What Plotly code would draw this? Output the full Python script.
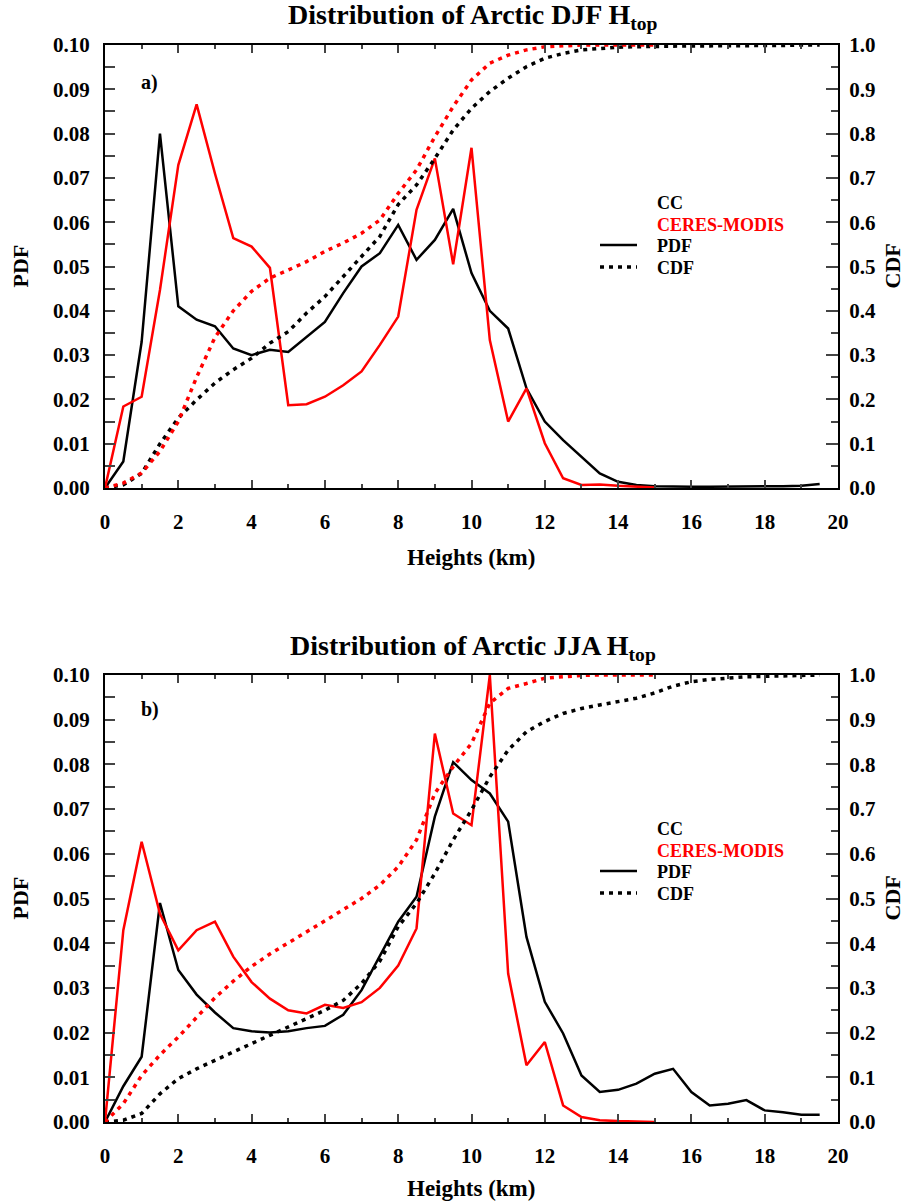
import plotly.graph_objects as go

# ---------------- data ----------------
heights_cc = [0.0, 0.5, 1.0, 1.5, 2.0, 2.5, 3.0, 3.5, 4.0, 4.5, 5.0, 5.5, 6.0, 6.5, 7.0, 7.5,
              8.0, 8.5, 9.0, 9.5, 10.0, 10.5, 11.0, 11.5, 12.0, 12.5, 13.0, 13.5, 14.0, 14.5,
              15.0, 15.5, 16.0, 16.5, 17.0, 17.5, 18.0, 18.5, 19.0, 19.5]
heights_cm = [0.0, 0.5, 1.0, 1.5, 2.0, 2.5, 3.0, 3.5, 4.0, 4.5, 5.0, 5.5, 6.0, 6.5, 7.0, 7.5,
              8.0, 8.5, 9.0, 9.5, 10.0, 10.5, 11.0, 11.5, 12.0, 12.5, 13.0, 13.5, 14.0, 14.5, 15.0]

# a) DJF
djf_cc_pdf = [0.000, 0.006, 0.033, 0.080, 0.041, 0.038, 0.0365, 0.0315, 0.030, 0.0312,
              0.0307, 0.034, 0.0375, 0.044, 0.050, 0.053, 0.0594, 0.0515, 0.056, 0.063,
              0.0485, 0.040, 0.036, 0.0225, 0.015, 0.0108, 0.0071, 0.0033, 0.0014, 0.0007,
              0.0004, 0.0003, 0.0003, 0.0003, 0.0003, 0.0004, 0.0004, 0.0004, 0.0005, 0.0009]
djf_cm_pdf = [0.000, 0.0184, 0.0206, 0.0447, 0.0729, 0.0866, 0.071, 0.0564, 0.0545, 0.0497,
              0.0187, 0.0189, 0.0206, 0.0232, 0.0263, 0.0323, 0.0387, 0.0628, 0.0744, 0.0505,
              0.0768, 0.0334, 0.015, 0.0225, 0.0101, 0.0022, 0.0007, 0.0008, 0.0005, 0.0003, 0.0001]
djf_cc_cdf = [0.000, 0.007, 0.033, 0.100, 0.158, 0.199, 0.237, 0.267, 0.293, 0.327,
              0.353, 0.395, 0.432, 0.477, 0.523, 0.568, 0.640, 0.684, 0.744, 0.808,
              0.857, 0.895, 0.925, 0.951, 0.970, 0.981, 0.989, 0.992, 0.995, 0.996,
              0.997, 0.997, 0.998, 0.998, 0.998, 0.999, 0.999, 0.999, 1.000, 1.000]
djf_cm_cdf = [0.000, 0.011, 0.034, 0.083, 0.150, 0.250, 0.340, 0.400, 0.444, 0.474,
              0.492, 0.511, 0.534, 0.553, 0.575, 0.605, 0.665, 0.718, 0.793, 0.861,
              0.921, 0.959, 0.977, 0.989, 0.996, 0.998, 1.000, 1.000, 1.000, 1.000, 1.000]

# b) JJA
jja_cc_pdf = [0.000, 0.008, 0.0146, 0.049, 0.034, 0.0285, 0.0245, 0.021, 0.0203, 0.020,
              0.0203, 0.021, 0.0215, 0.024, 0.0295, 0.037, 0.0448, 0.0504, 0.0683, 0.0805,
              0.0765, 0.0735, 0.0672, 0.0414, 0.0269, 0.0198, 0.0104, 0.0067, 0.0072, 0.0086,
              0.0108, 0.0119, 0.0067, 0.0037, 0.0041, 0.0049, 0.0026, 0.0022, 0.0016, 0.0016]
jja_cm_pdf = [0.000, 0.0429, 0.0627, 0.0466, 0.0384, 0.0429, 0.0448, 0.037, 0.0313, 0.0276,
              0.025, 0.0243, 0.0262, 0.0255, 0.0268, 0.030, 0.035, 0.0433, 0.0869, 0.069,
              0.0664, 0.100, 0.0332, 0.0127, 0.0179, 0.0037, 0.0011, 0.0004, 0.0002, 0.0001, 0.000]
jja_cc_cdf = [0.000, 0.004, 0.019, 0.063, 0.097, 0.119, 0.138, 0.157, 0.175, 0.194,
              0.213, 0.231, 0.250, 0.272, 0.310, 0.360, 0.437, 0.489, 0.556, 0.631,
              0.698, 0.772, 0.832, 0.873, 0.896, 0.914, 0.925, 0.933, 0.940, 0.948,
              0.960, 0.975, 0.985, 0.990, 0.993, 0.996, 0.997, 0.998, 0.999, 1.000]
jja_cm_cdf = [0.000, 0.041, 0.104, 0.150, 0.190, 0.233, 0.278, 0.315, 0.348, 0.376,
              0.400, 0.425, 0.450, 0.475, 0.500, 0.530, 0.571, 0.631, 0.735, 0.795,
              0.847, 0.937, 0.970, 0.981, 0.993, 0.996, 0.999, 1.000, 1.000, 1.000, 1.000]

titles = ["Distribution of Arctic DJF H<sub>top</sub>", "Distribution of Arctic JJA H<sub>top</sub>"]
panel_labels = ["a)", "b)"]

# ---------------- figure ----------------
W, H = 907, 1202
FONT = "Liberation Serif"
RED = "#ff0000"

def px(x):
    return x / W

def py(y):
    return 1 - y / H

panels = [
    dict(top=45, bot=488, xt=69, pdfs=(djf_cc_pdf, djf_cm_pdf), cdfs=(djf_cc_cdf, djf_cm_cdf)),
    dict(top=675, bot=1122, xt=66, pdfs=(jja_cc_pdf, jja_cm_pdf), cdfs=(jja_cc_cdf, jja_cm_cdf)),
]
x_left, x_right = 105, 838

fig = go.Figure()
layout = dict(width=W, height=H, margin=dict(l=0, r=0, t=0, b=0, autoexpand=False),
              paper_bgcolor="white", plot_bgcolor="white", showlegend=False)
annotations = []
shapes = []

tickfont = dict(family=FONT, size=21, color="black", weight="bold")

for i, p in enumerate(panels):
    xa = "x" if i == 0 else "x2"
    ya_l = "y" if i == 0 else "y3"
    ya_r = "y2" if i == 0 else "y4"
    xkey = "xaxis" if i == 0 else "xaxis2"
    ylkey = "yaxis" if i == 0 else "yaxis3"
    yrkey = "yaxis2" if i == 0 else "yaxis4"

    cc_pdf, cm_pdf = p["pdfs"]
    cc_cdf, cm_cdf = p["cdfs"]

    fig.add_trace(go.Scatter(x=heights_cc, y=cc_cdf, mode="lines", xaxis=xa, yaxis=ya_r,
                             line=dict(color="black", width=3.5, dash="4px,5px")))
    fig.add_trace(go.Scatter(x=heights_cm, y=cm_cdf, mode="lines", xaxis=xa, yaxis=ya_r,
                             line=dict(color=RED, width=3.5, dash="4px,5px")))
    fig.add_trace(go.Scatter(x=heights_cc, y=cc_pdf, mode="lines", xaxis=xa, yaxis=ya_l,
                             line=dict(color="black", width=2.5)))
    fig.add_trace(go.Scatter(x=heights_cm, y=cm_pdf, mode="lines", xaxis=xa, yaxis=ya_l,
                             line=dict(color=RED, width=2.5)))

    ydom = [py(p["bot"]), py(p["top"])]
    layout[xkey] = dict(domain=[px(x_left), px(x_right)], range=[0, 20], anchor=ya_l,
                        dtick=2, tick0=0, ticks="inside", ticklen=8, tickwidth=2,
                        minor=dict(dtick=1, ticks="inside", ticklen=4, tickwidth=2),
                        showline=True, linewidth=2, linecolor="black", mirror="ticks",
                        showgrid=False, zeroline=False, tickfont=tickfont,
                        ticklabelstandoff=14, automargin=False)
    layout[ylkey] = dict(domain=ydom, range=[0, 0.1], anchor=xa, side="left",
                         dtick=0.01, tick0=0, tickformat=".2f", ticks="inside", ticklen=10,
                         tickwidth=2,
                         minor=dict(dtick=0.005, ticks="inside", ticklen=10, tickwidth=2),
                         showline=True, linewidth=2, linecolor="black",
                         showgrid=False, zeroline=False, tickfont=tickfont,
                         ticklabelstandoff=9, automargin=False)
    layout[yrkey] = dict(domain=ydom, range=[0, 1.0], anchor=xa, overlaying=ya_l, side="right",
                         dtick=0.1, tick0=0, tickformat=".1f", ticks="inside", ticklen=12,
                         tickwidth=2,
                         minor=dict(dtick=0.05, ticks="inside", ticklen=7, tickwidth=2),
                         showline=True, linewidth=2, linecolor="black",
                         showgrid=False, zeroline=False, tickfont=tickfont,
                         ticklabelstandoff=5, automargin=False)

    off = p["top"] - 45
    # title
    annotations.append(dict(x=px(473), y=py(off + 17), xref="paper", yref="paper",
                            text="<b>" + titles[i] + "</b>", showarrow=False,
                            xanchor="center", yanchor="middle",
                            font=dict(family=FONT, size=28, color="black")))
    # panel label
    annotations.append(dict(x=px(139), y=py(off + 83 - (4 if i else 0)), xref="paper", yref="paper",
                            text="<b>" + panel_labels[i] + "</b>", showarrow=False,
                            xanchor="left", yanchor="middle",
                            font=dict(family=FONT, size=20, color="black")))
    # axis titles
    annotations.append(dict(x=px(471), y=py(p["bot"] + p["xt"]), xref="paper", yref="paper",
                            text="<b>Heights (km)</b>", showarrow=False,
                            xanchor="center", yanchor="middle",
                            font=dict(family=FONT, size=23, color="black")))
    annotations.append(dict(x=px(20), y=py((p["top"] + p["bot"]) / 2), xref="paper", yref="paper",
                            text="<b>PDF</b>", showarrow=False, textangle=-90,
                            xanchor="center", yanchor="middle",
                            font=dict(family=FONT, size=22, color="black")))
    annotations.append(dict(x=px(892), y=py((p["top"] + p["bot"]) / 2), xref="paper", yref="paper",
                            text="<b>CDF</b>", showarrow=False, textangle=-90,
                            xanchor="center", yanchor="middle",
                            font=dict(family=FONT, size=22, color="black")))
    # legend
    loff = off - (4 if i else 0)
    leg = [("CC", "black", 203), ("CERES-MODIS", RED, 225), ("PDF", "black", 246), ("CDF", "black", 268)]
    for txt, col, yy in leg:
        annotations.append(dict(x=px(655), y=py(loff + yy), xref="paper", yref="paper",
                                text="<b>" + txt + "</b>", showarrow=False,
                                xanchor="left", yanchor="middle",
                                font=dict(family=FONT, size=18, color=col)))
    shapes.append(dict(type="line", xref="paper", yref="paper",
                       x0=px(600), x1=px(637), y0=py(loff + 245), y1=py(loff + 245),
                       line=dict(color="black", width=2.5)))
    shapes.append(dict(type="line", xref="paper", yref="paper",
                       x0=px(600), x1=px(637), y0=py(loff + 267), y1=py(loff + 267),
                       line=dict(color="black", width=3.5, dash="4px,5px")))

layout["annotations"] = annotations
layout["shapes"] = shapes
fig.update_layout(**layout)
fig.write_html("out.html")
